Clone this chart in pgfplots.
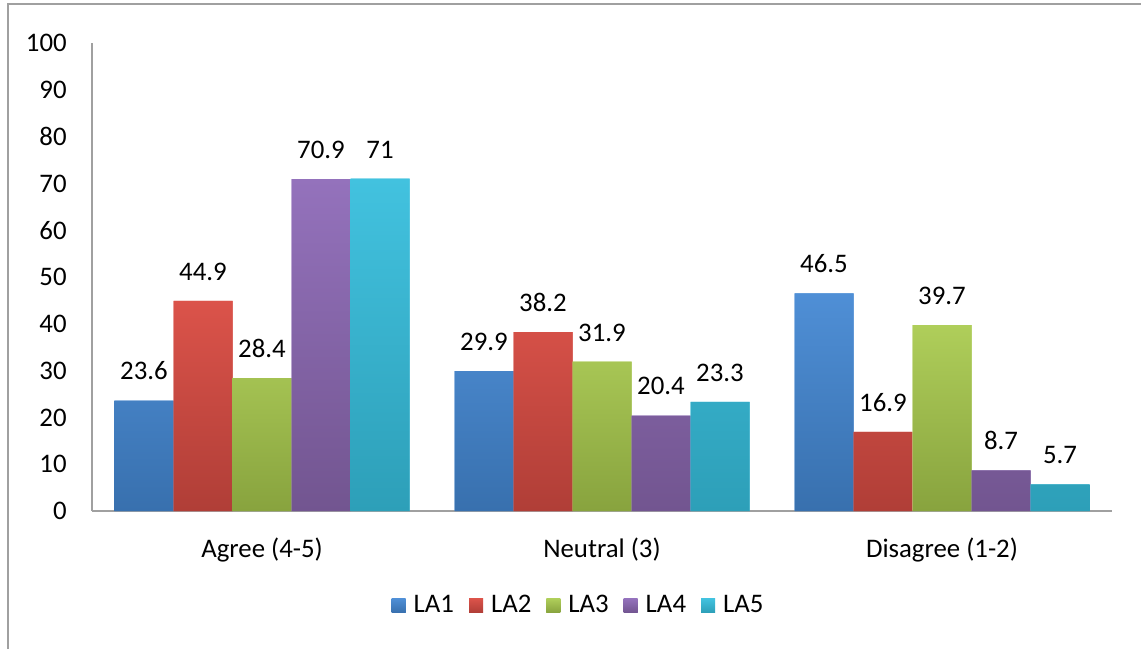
\documentclass[border=0pt]{standalone}
\usepackage{pgfplots}
\pgfplotsset{compat=1.18}
\usepackage{fontspec}
\setmainfont{Carlito}
\definecolor{ctopA}{HTML}{4F8FD6}\definecolor{cbotA}{HTML}{3870AE}
\definecolor{ctopB}{HTML}{DB534A}\definecolor{cbotB}{HTML}{B03E37}
\definecolor{ctopC}{HTML}{AFCE5A}\definecolor{cbotC}{HTML}{88A33E}
\definecolor{ctopD}{HTML}{9472BC}\definecolor{cbotD}{HTML}{725590}
\definecolor{ctopE}{HTML}{42C2DF}\definecolor{cbotE}{HTML}{2D9FB8}
\definecolor{axgray}{HTML}{A0A0A0}
\newcommand{\lf}{\fontsize{13.4}{16}\selectfont}
\begin{document}
\lf
\begin{tikzpicture}
\useasboundingbox (0,0) rectangle (570.5pt,324.5pt);
\draw[axgray,line width=1pt] (4pt,0) -- (4pt,322.5pt) -- (570.5pt,322.5pt);
\begin{axis}[
  at={(46pt,69pt)}, anchor=south west,
  scale only axis, width=510pt, height=234pt,
  ymin=0, ymax=100, ytick={0,10,...,100},
  xmin=-0.5, xmax=2.5, xtick={0,1,2},
  xticklabels={Agree (4-5),Neutral (3),Disagree (1-2)},
  ybar=0pt, bar width=29.5pt,
  axis x line*=bottom, axis y line*=left,
  axis line style={axgray, line width=0.8pt},
  x axis line style={line width=1.2pt},
  major tick length=0pt,
  tick label style={font=\lf},
  /pgf/number format/assume math mode=true,
  yticklabel style={xshift=-8pt},
  xticklabel style={yshift=-9pt},
  nodes near coords,
  nodes near coords style={font=\lf, anchor=south, inner sep=0pt, yshift=10pt},
  point meta=explicit symbolic,
  legend columns=-1,
  legend style={draw=none, at={(0.478,-0.202)}, anchor=center, font=\lf,
    /tikz/every even column/.append style={column sep=5.5pt}},
  legend image code/.code={\fill[#1] (0pt,-3.5pt) rectangle (7pt,3.5pt); \path (9pt,0);},
  enlarge x limits=false,
]
\addplot[draw=none, fill=ctopA, top color=ctopA, bottom color=cbotA] coordinates {(0,23.6)[23.6] (1,29.9)[29.9] (2,46.5)[46.5]};
\addplot[draw=none, fill=ctopB, top color=ctopB, bottom color=cbotB] coordinates {(0,44.9)[44.9] (1,38.2)[38.2] (2,16.9)[16.9]};
\addplot[draw=none, fill=ctopC, top color=ctopC, bottom color=cbotC] coordinates {(0,28.4)[28.4] (1,31.9)[31.9] (2,39.7)[39.7]};
\addplot[draw=none, fill=ctopD, top color=ctopD, bottom color=cbotD] coordinates {(0,70.9)[70.9] (1,20.4)[20.4] (2,8.7)[8.7]};
\addplot[draw=none, fill=ctopE, top color=ctopE, bottom color=cbotE] coordinates {(0,71)[71] (1,23.3)[23.3] (2,5.7)[5.7]};
\legend{LA1,LA2,LA3,LA4,LA5}
\end{axis}
\end{tikzpicture}
\end{document}
